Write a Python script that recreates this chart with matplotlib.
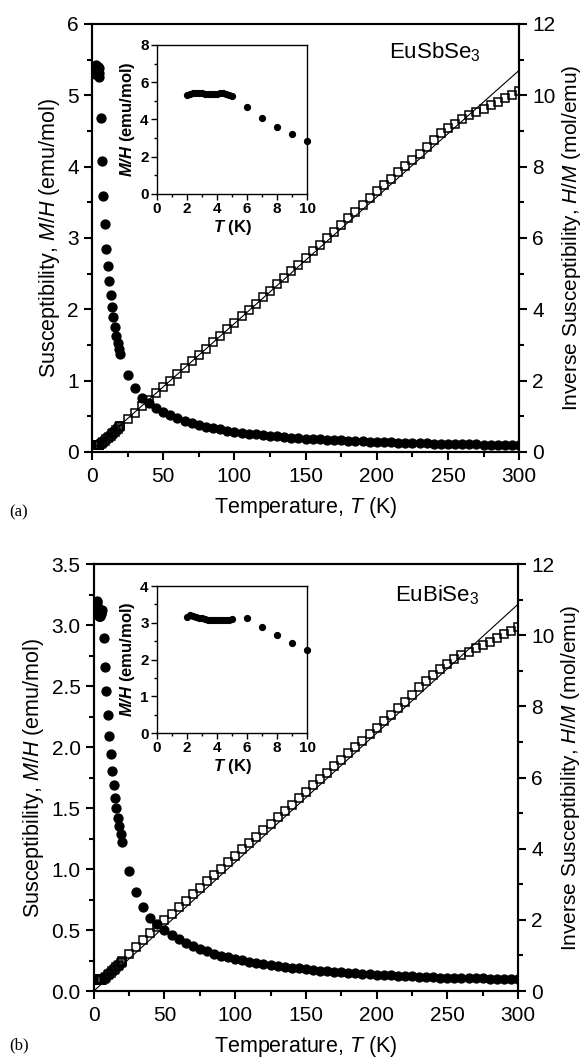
import matplotlib
matplotlib.use("Agg")
import matplotlib.pyplot as plt
from matplotlib.ticker import MultipleLocator

plt.rcParams['font.family'] = ['Liberation Sans', 'DejaVu Sans']
plt.rcParams['mathtext.fontset'] = 'custom'
plt.rcParams['mathtext.rm'] = 'Liberation Sans'
plt.rcParams['mathtext.it'] = 'Liberation Sans:italic'
plt.rcParams['mathtext.bf'] = 'Liberation Sans:bold'
plt.rcParams['mathtext.bfit'] = 'Liberation Sans:italic:bold'

# temperature grids (K)
T_DENSE = [2.0, 2.2, 2.4, 2.6, 2.8, 3.0, 3.2, 3.4, 3.6, 3.8, 4.0, 4.2, 4.4, 4.6, 4.8, 5.0]
T_LOW = [6, 7, 8, 9, 10, 11, 12, 13, 14, 15, 16, 17, 18, 19, 20]
T_MID = [25, 30, 35, 40]
T_HIGH = list(range(45, 305, 5))
T_INV = list(range(20, 305, 5))
T_FIT = [0, 300]

# EuSbSe3
SB_CHI_DENSE = [5.30, 5.36, 5.40, 5.42, 5.41, 5.40, 5.39, 5.38, 5.38, 5.38, 5.39, 5.40, 5.40, 5.38, 5.31, 5.25]
SB_CHI_LOW = [4.68, 4.08, 3.59, 3.20, 2.85, 2.61, 2.39, 2.20, 2.03, 1.89, 1.75, 1.63, 1.53, 1.45, 1.38]
SB_CHI_MID = [1.08, 0.90, 0.76, 0.69]
SB_CHI_HIGH = [0.62, 0.565, 0.515, 0.47, 0.435, 0.405, 0.378, 0.355, 0.334, 0.315, 0.298, 0.283,
               0.269, 0.257, 0.246, 0.235, 0.226, 0.217, 0.209, 0.201, 0.194, 0.188, 0.182, 0.176,
               0.171, 0.166, 0.161, 0.157, 0.152, 0.148, 0.144, 0.141, 0.137, 0.134, 0.131, 0.128,
               0.125, 0.122, 0.119, 0.117, 0.114, 0.112, 0.110, 0.108, 0.106, 0.105, 0.104, 0.103,
               0.101, 0.100, 0.099, 0.098]
SB_INV_DENSE = [0.189, 0.187, 0.185, 0.184, 0.185, 0.185, 0.186, 0.186, 0.186, 0.186, 0.186, 0.185,
                0.185, 0.186, 0.188, 0.190]
SB_INV_LOW = [0.214, 0.245, 0.279, 0.313, 0.351, 0.383, 0.418, 0.455, 0.493, 0.529, 0.571, 0.613,
              0.654, 0.690, 0.725]
SB_INV = [0.73, 0.92, 1.10, 1.28, 1.46, 1.64, 1.82, 2.00, 2.18, 2.36, 2.54, 2.72, 2.90, 3.08, 3.26,
          3.44, 3.62, 3.80, 3.98, 4.16, 4.34, 4.52, 4.70, 4.88, 5.06, 5.25, 5.43, 5.62, 5.80, 5.99,
          6.17, 6.36, 6.55, 6.74, 6.93, 7.12, 7.31, 7.49, 7.66, 7.84, 8.01, 8.18, 8.36, 8.55, 8.75,
          8.93, 9.08, 9.20, 9.33, 9.44, 9.53, 9.62, 9.72, 9.82, 9.92, 10.02, 10.12]
SB_FIT = [0.05, 10.70]

# EuBiSe3
BI_CHI_DENSE = [3.15, 3.20, 3.19, 3.16, 3.14, 3.12, 3.10, 3.09, 3.08, 3.07, 3.07, 3.07, 3.07, 3.08, 3.09, 3.10]
BI_CHI_LOW = [3.12, 2.89, 2.66, 2.46, 2.26, 2.09, 1.94, 1.80, 1.69, 1.58, 1.50, 1.42, 1.35, 1.29, 1.22]
BI_CHI_MID = [0.98, 0.81, 0.69, 0.60]
BI_CHI_HIGH = [0.55, 0.503, 0.461, 0.426, 0.395, 0.368, 0.345, 0.325, 0.307, 0.291, 0.276, 0.263,
               0.251, 0.240, 0.230, 0.221, 0.213, 0.205, 0.198, 0.191, 0.185, 0.179, 0.173, 0.168,
               0.163, 0.158, 0.154, 0.150, 0.146, 0.142, 0.139, 0.135, 0.132, 0.129, 0.126, 0.123,
               0.120, 0.117, 0.115, 0.113, 0.111, 0.109, 0.107, 0.106, 0.105, 0.104, 0.103, 0.102,
               0.101, 0.100, 0.099, 0.098]
BI_INV_DENSE = [0.317, 0.313, 0.313, 0.316, 0.318, 0.321, 0.323, 0.324, 0.325, 0.326, 0.326, 0.326,
                0.326, 0.325, 0.324, 0.323]
BI_INV_LOW = [0.321, 0.346, 0.376, 0.407, 0.442, 0.478, 0.515, 0.556, 0.592, 0.633, 0.667, 0.704,
              0.741, 0.775, 0.82]
BI_INV = [0.84, 1.03, 1.23, 1.43, 1.62, 1.81, 1.99, 2.17, 2.35, 2.53, 2.72, 2.90, 3.08, 3.26, 3.44,
          3.62, 3.80, 3.98, 4.16, 4.34, 4.52, 4.70, 4.88, 5.06, 5.24, 5.42, 5.60, 5.78, 5.96, 6.14,
          6.32, 6.50, 6.68, 6.86, 7.04, 7.22, 7.40, 7.58, 7.76, 7.94, 8.12, 8.32, 8.54, 8.70, 8.88,
          9.04, 9.20, 9.32, 9.43, 9.53, 9.63, 9.72, 9.82, 9.92, 10.02, 10.12, 10.22]
BI_FIT = [0.0, 10.87]


def style_axis(ax, size, width, major_len, minor_len):
    for sp in ax.spines.values():
        sp.set_linewidth(width)
    ax.tick_params(which='major', direction='out', length=major_len, width=width,
                   labelsize=size, top=False)
    ax.tick_params(which='minor', direction='out', length=minor_len, width=width, top=False)


def panel(rect, inset_rect, chi_dense, chi_low, chi_mid, chi_high,
          inv_dense, inv_low, inv, fit, ymax, ystep, yfmt, inset_ymax, inset_step,
          name, name_y, tag, tag_y):
    ax = fig.add_axes(rect)
    ax2 = ax.twinx()

    # susceptibility (filled circles)
    ms = 6.4
    ax.plot(T_DENSE, chi_dense, 'o', color='black', ms=ms, zorder=4)
    ax.plot(T_LOW, chi_low, 'o', color='black', ms=ms, zorder=4)
    ax.plot(T_MID, chi_mid, 'o', color='black', ms=ms, zorder=4)
    ax.plot(T_HIGH, chi_high, 'o', color='black', ms=ms, zorder=4)

    # inverse susceptibility (open squares) and fit line
    ax2.plot(T_FIT, fit, '-', color='black', lw=0.8)
    sq = dict(marker='s', ls='none', mfc='none', mec='black', ms=5.2, mew=1.1)
    ax2.plot(T_DENSE, inv_dense, **sq)
    ax2.plot(T_LOW, inv_low, **sq)
    ax2.plot(T_INV, inv, **sq)

    ax.set_xlim(0, 300)
    ax.set_ylim(0, ymax)
    ax2.set_ylim(0, 12)
    ax.xaxis.set_major_locator(MultipleLocator(50))
    ax.xaxis.set_minor_locator(MultipleLocator(25))
    ax.yaxis.set_major_locator(MultipleLocator(ystep))
    ax.yaxis.set_minor_locator(MultipleLocator(ystep / 2))
    ax.yaxis.set_major_formatter(yfmt)
    ax2.yaxis.set_major_locator(MultipleLocator(2))
    ax2.yaxis.set_minor_locator(MultipleLocator(1))
    style_axis(ax, 15, 1.5, 6, 3.5)
    style_axis(ax2, 15, 1.5, 6, 3.5)
    ax.tick_params(axis='x', pad=5)

    ax.set_xlabel(r'Temperature, $\mathit{T}$ (K)', fontsize=15.5, labelpad=6)
    ax.set_ylabel(r'Susceptibility, $\mathit{M/H}$ (emu/mol)', fontsize=15.5, labelpad=4)
    ax2.set_ylabel(r'Inverse Susceptibility, $\mathit{H/M}$ (mol/emu)', fontsize=15,
                   rotation=90, labelpad=3)
    ax.text(0.91, name_y, name, transform=ax.transAxes, ha='right', va='center',
            fontsize=16, zorder=6)
    fig.text(0.015, tag_y, tag, family='Liberation Serif', fontsize=12, va='center')

    # inset: low-temperature susceptibility
    axi = fig.add_axes(inset_rect)
    axi.plot(T_DENSE, chi_dense, 'o', color='black', ms=4.2)
    axi.plot(T_LOW[:5], chi_low[:5], 'o', color='black', ms=4.2)
    axi.set_xlim(0, 10)
    axi.set_ylim(0, inset_ymax)
    axi.xaxis.set_major_locator(MultipleLocator(2))
    axi.xaxis.set_minor_locator(MultipleLocator(1))
    axi.yaxis.set_major_locator(MultipleLocator(inset_step))
    axi.yaxis.set_minor_locator(MultipleLocator(inset_step / 2))
    style_axis(axi, 11, 1.0, 4, 2.5)
    for lab in axi.get_xticklabels() + axi.get_yticklabels():
        lab.set_fontweight('bold')
    axi.tick_params(pad=2)
    axi.set_xlabel(r'$\mathbfit{T}$ (K)', fontsize=12, fontweight='bold', labelpad=1)
    axi.set_ylabel(r'$\mathbfit{M/H}$ (emu/mol)', fontsize=12, fontweight='bold', labelpad=2)
    for line in axi.lines:
        line.set_clip_on(False)
    return ax


fig = plt.figure(figsize=(5.86, 10.57), dpi=100)

panel([0.157, 0.5724, 0.729, 0.405], [0.268, 0.8165, 0.256, 0.141],
      SB_CHI_DENSE, SB_CHI_LOW, SB_CHI_MID, SB_CHI_HIGH,
      SB_INV_DENSE, SB_INV_LOW, SB_INV, SB_FIT,
      6, 1, '{x:.0f}', 8, 2, r'EuSbSe$_3$', 0.935, '(a)', 1 - 512 / 1057)

panel([0.160, 0.0624, 0.724, 0.404], [0.268, 0.3065, 0.256, 0.139],
      BI_CHI_DENSE, BI_CHI_LOW, BI_CHI_MID, BI_CHI_HIGH,
      BI_INV_DENSE, BI_INV_LOW, BI_INV, BI_FIT,
      3.5, 0.5, '{x:.1f}', 4, 1, r'EuBiSe$_3$', 0.927, '(b)', 1 - 1045 / 1057)

fig.savefig('out.png', dpi=100)
